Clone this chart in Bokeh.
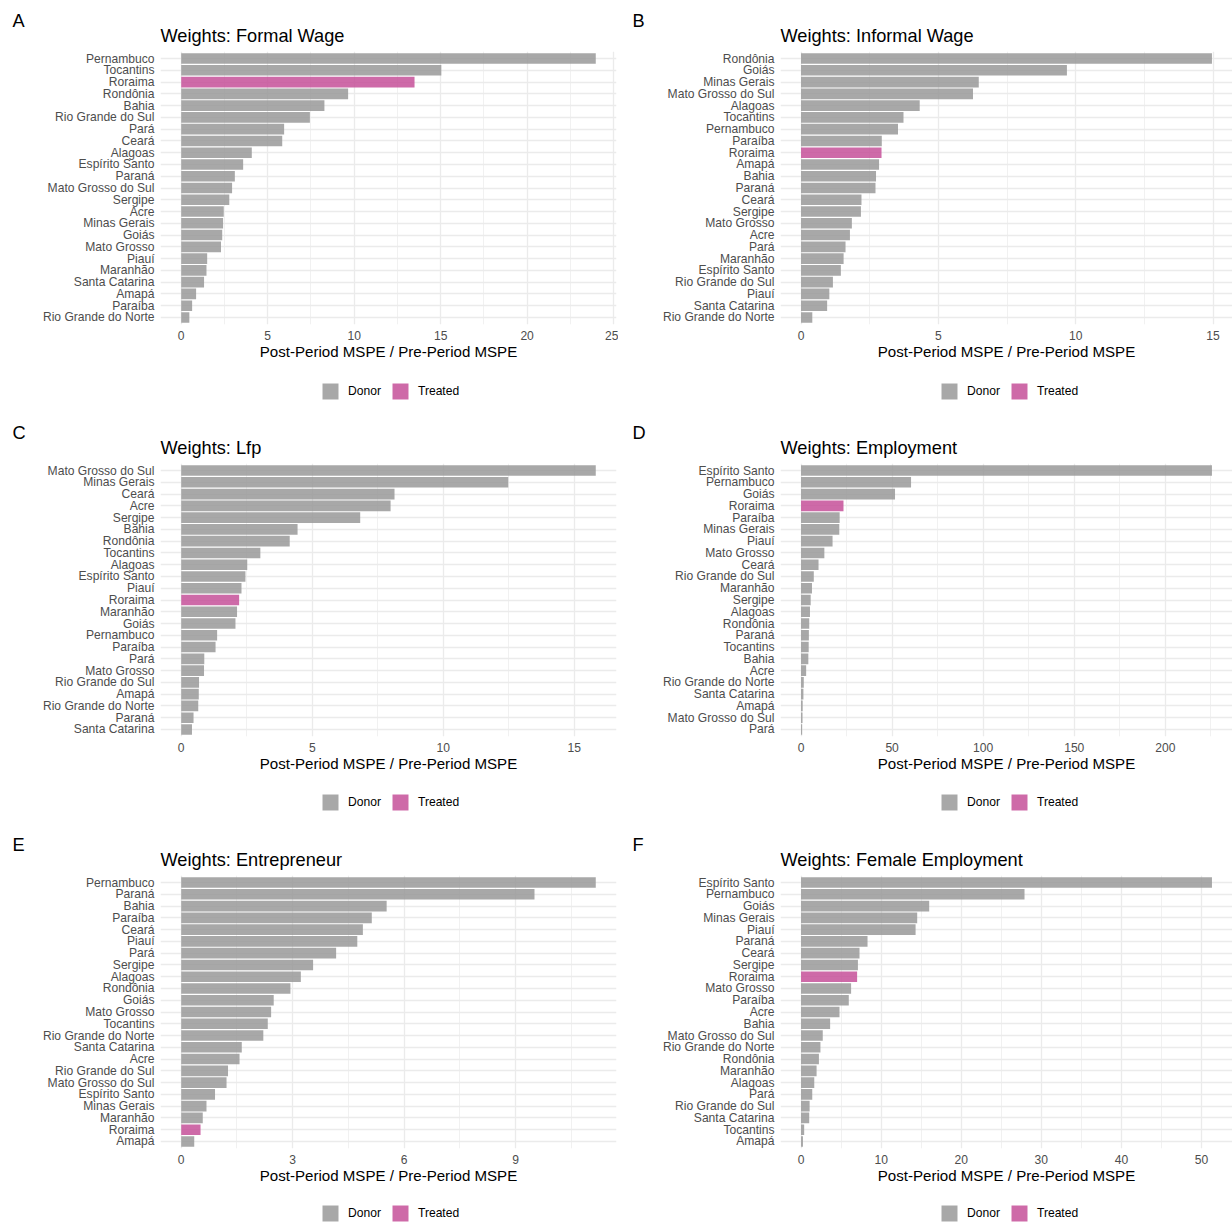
from bokeh.plotting import figure
from bokeh.models import (ColumnDataSource, FactorRange, Range1d, FixedTicker, Title,
                          Legend, LegendItem)
from bokeh.layouts import column, row
from bokeh.embed import file_html
from bokeh.resources import INLINE

TREATED = "Roraima"
FONT = "Liberation Sans"

# ---------------- data (top to bottom as drawn) ----------------
a_states = ["Pernambuco", "Tocantins", "Roraima", "Rondônia", "Bahia", "Rio Grande do Sul",
            "Pará", "Ceará", "Alagoas", "Espírito Santo", "Paraná", "Mato Grosso do Sul",
            "Sergipe", "Acre", "Minas Gerais", "Goiás", "Mato Grosso", "Piauí", "Maranhão",
            "Santa Catarina", "Amapá", "Paraíba", "Rio Grande do Norte"]
a_values = [23.97, 15.04, 13.49, 9.65, 8.28, 7.44, 5.95, 5.84, 4.08, 3.58, 3.10, 2.94,
            2.78, 2.46, 2.42, 2.37, 2.30, 1.50, 1.46, 1.32, 0.86, 0.63, 0.47]
a_ticks = [0, 5, 10, 15, 20, 25]

b_states = ["Rondônia", "Goiás", "Minas Gerais", "Mato Grosso do Sul", "Alagoas", "Tocantins",
            "Pernambuco", "Paraíba", "Roraima", "Amapá", "Bahia", "Paraná", "Ceará", "Sergipe",
            "Mato Grosso", "Acre", "Pará", "Maranhão", "Espírito Santo", "Rio Grande do Sul",
            "Piauí", "Santa Catarina", "Rio Grande do Norte"]
b_values = [14.96, 9.68, 6.47, 6.26, 4.32, 3.73, 3.53, 2.94, 2.93, 2.84, 2.73, 2.71, 2.20,
            2.18, 1.85, 1.78, 1.62, 1.55, 1.45, 1.16, 1.03, 0.95, 0.41]
b_ticks = [0, 5, 10, 15]

c_states = ["Mato Grosso do Sul", "Minas Gerais", "Ceará", "Acre", "Sergipe", "Bahia",
            "Rondônia", "Tocantins", "Alagoas", "Espírito Santo", "Piauí", "Roraima",
            "Maranhão", "Goiás", "Pernambuco", "Paraíba", "Pará", "Mato Grosso",
            "Rio Grande do Sul", "Amapá", "Rio Grande do Norte", "Paraná", "Santa Catarina"]
c_values = [15.82, 12.48, 8.14, 7.99, 6.83, 4.44, 4.14, 3.02, 2.52, 2.45, 2.30, 2.21, 2.13,
            2.07, 1.37, 1.31, 0.88, 0.87, 0.68, 0.67, 0.65, 0.47, 0.41]
c_ticks = [0, 5, 10, 15]

d_states = ["Espírito Santo", "Pernambuco", "Goiás", "Roraima", "Paraíba", "Minas Gerais",
            "Piauí", "Mato Grosso", "Ceará", "Rio Grande do Sul", "Maranhão", "Sergipe",
            "Alagoas", "Rondônia", "Paraná", "Tocantins", "Bahia", "Acre",
            "Rio Grande do Norte", "Santa Catarina", "Amapá", "Mato Grosso do Sul", "Pará"]
d_values = [225.6, 60.4, 51.6, 23.3, 21.2, 21.0, 17.3, 12.8, 9.6, 7.0, 6.0, 5.3, 4.9, 4.5,
            4.3, 4.2, 4.0, 2.8, 1.5, 1.3, 0.9, 0.8, 0.6]
d_ticks = [0, 50, 100, 150, 200]

e_states = ["Pernambuco", "Paraná", "Bahia", "Paraíba", "Ceará", "Piauí", "Pará", "Sergipe",
            "Alagoas", "Rondônia", "Goiás", "Mato Grosso", "Tocantins", "Rio Grande do Norte",
            "Santa Catarina", "Acre", "Rio Grande do Sul", "Mato Grosso do Sul",
            "Espírito Santo", "Minas Gerais", "Maranhão", "Roraima", "Amapá"]
e_values = [11.16, 9.51, 5.53, 5.13, 4.89, 4.74, 4.17, 3.55, 3.22, 2.94, 2.49, 2.42, 2.33,
            2.21, 1.63, 1.57, 1.26, 1.22, 0.91, 0.68, 0.58, 0.52, 0.35]
e_ticks = [0, 3, 6, 9]

f_states = ["Espírito Santo", "Pernambuco", "Goiás", "Minas Gerais", "Piauí", "Paraná",
            "Ceará", "Sergipe", "Roraima", "Mato Grosso", "Paraíba", "Acre", "Bahia",
            "Mato Grosso do Sul", "Rio Grande do Norte", "Rondônia", "Maranhão", "Alagoas",
            "Pará", "Rio Grande do Sul", "Santa Catarina", "Tocantins", "Amapá"]
f_values = [51.3, 27.9, 16.0, 14.5, 14.3, 8.3, 7.3, 7.1, 7.0, 6.25, 5.96, 4.8, 3.63, 2.71,
            2.42, 2.23, 1.94, 1.65, 1.40, 1.07, 1.02, 0.39, 0.24]
f_ticks = [0, 10, 20, 30, 40, 50]

x_title = "Post-Period MSPE / Pre-Period MSPE"
legend_labels = ["Donor", "Treated"]

FRAME_H = 273
DONOR_COLOR = "#999999"
TREATED_COLOR = "#c65099"
GRID = "#EBEBEB"
TXT_S = "12.1px"
TITLE_S = "18.2px"


def bars(p, donor, treat, visible=True):
    r1 = p.hbar(y="y", right="v", left=0, height=0.9, source=donor,
                fill_color=DONOR_COLOR, fill_alpha=0.85, line_color=None)
    r2 = p.hbar(y="y", right="v", left=0, height=0.9, source=treat,
                fill_color=TREATED_COLOR, fill_alpha=0.85, line_color=None)
    r1.visible = visible
    r2.visible = visible
    return r1, r2


def panel(letter, title, states, values, ticks, frame_w, b_left, b_right,
          b_top, legend_h, legend_x, legend_y):
    vmax = max(values)
    x_range = Range1d(-0.05 * vmax, 1.05 * vmax)
    y_range = FactorRange(factors=list(reversed(states)), range_padding=0.1,
                          range_padding_units="absolute")
    p = figure(frame_width=frame_w, frame_height=FRAME_H, x_range=x_range, y_range=y_range,
               output_backend="svg", toolbar_location=None,
               min_border_left=b_left, min_border_right=b_right,
               min_border_top=b_top, min_border_bottom=40)
    p.outline_line_color = None
    p.background_fill_color = "white"
    p.border_fill_color = "white"

    # outermost title: panel letter
    p.title.text = letter
    p.title.align = "left"
    p.title.offset = -148
    p.title.text_font = FONT
    p.title.text_font_size = TITLE_S
    p.title.text_font_style = "normal"
    p.title.text_color = "black"
    p.title.standoff = -26
    # closest title: panel title
    p.add_layout(Title(text=title, align="left", text_font=FONT,
                       text_font_size=TITLE_S, text_font_style="normal",
                       text_color="black", standoff=12), "above")

    donor = ColumnDataSource(dict(y=[s for s in states if s != TREATED],
                                  v=[v for s, v in zip(states, values) if s != TREATED]))
    treat = ColumnDataSource(dict(y=[s for s in states if s == TREATED],
                                  v=[v for s, v in zip(states, values) if s == TREATED]))
    bars(p, donor, treat)

    step = ticks[1] - ticks[0]
    minor = [t + step / 2 for t in ticks if t + step / 2 <= 1.05 * vmax]
    p.xaxis.ticker = FixedTicker(ticks=ticks, minor_ticks=minor)
    p.xaxis.axis_label = x_title

    for ax in (p.xaxis[0], p.yaxis[0]):
        ax.axis_line_color = None
        ax.major_tick_line_color = None
        ax.minor_tick_line_color = None
        ax.major_tick_out = 0
        ax.major_tick_in = 0
        ax.minor_tick_out = 0
        ax.minor_tick_in = 0
        ax.major_label_text_font = FONT
        ax.major_label_text_font_size = TXT_S
        ax.major_label_text_color = "#4D4D4D"
    p.xaxis.major_label_standoff = 6
    p.yaxis.major_label_standoff = 6
    p.xaxis.axis_label_text_font = FONT
    p.xaxis.axis_label_text_font_size = "15.1px"
    p.xaxis.axis_label_text_font_style = "normal"
    p.xaxis.axis_label_text_color = "black"
    p.xaxis.axis_label_standoff = 0

    p.xgrid.grid_line_color = GRID
    p.xgrid.grid_line_width = 1.3
    p.xgrid.minor_grid_line_color = GRID
    p.xgrid.minor_grid_line_width = 0.7
    p.ygrid.grid_line_color = GRID
    p.ygrid.grid_line_width = 1.3

    # legend strip below the panel (same glyphs, not drawn in this strip)
    total_w = b_left + frame_w + b_right
    lf = figure(width=total_w, height=legend_h, x_range=Range1d(-0.05 * vmax, 1.05 * vmax),
                y_range=FactorRange(factors=list(reversed(states))),
                x_axis_type=None, y_axis_type=None, output_backend="svg",
                toolbar_location=None, min_border=0)
    lf.outline_line_color = None
    lf.grid.visible = False
    lr1, lr2 = bars(lf, donor, treat, visible=False)
    legend = Legend(items=[LegendItem(label=legend_labels[0], renderers=[lr1]),
                           LegendItem(label=legend_labels[1], renderers=[lr2])],
                    orientation="horizontal", location=(legend_x, legend_y),
                    glyph_width=20, glyph_height=20, label_standoff=8, spacing=9,
                    padding=0, margin=0, border_line_color=None,
                    background_fill_alpha=0, label_text_font=FONT,
                    label_text_font_size=TXT_S, label_text_color="black")
    lf.add_layout(legend)
    return column(p, lf, spacing=0)


pa = panel("A", "Weights: Formal Wage", a_states, a_values, a_ticks, 456, 160, 2, 51, 47, 160, 10)
pb = panel("B", "Weights: Informal Wage", b_states, b_values, b_ticks, 452, 162, 0, 51, 47, 159, 10)
pc = panel("C", "Weights: Lfp", c_states, c_values, c_ticks, 456, 160, 2, 52, 46, 160, 10)
pd = panel("D", "Weights: Employment", d_states, d_values, d_ticks, 452, 162, 0, 52, 46, 159, 10)
pe = panel("E", "Weights: Entrepreneur", e_states, e_values, e_ticks, 456, 160, 2, 53, 35, 160, 0)
pf = panel("F", "Weights: Female Employment", f_states, f_values, f_ticks, 452, 162, 0, 53, 35, 159, 0)

layout = column(row(pa, pb, spacing=0), row(pc, pd, spacing=0), row(pe, pf, spacing=0),
                spacing=0)

open("out.html", "w").write(file_html(layout, INLINE))
